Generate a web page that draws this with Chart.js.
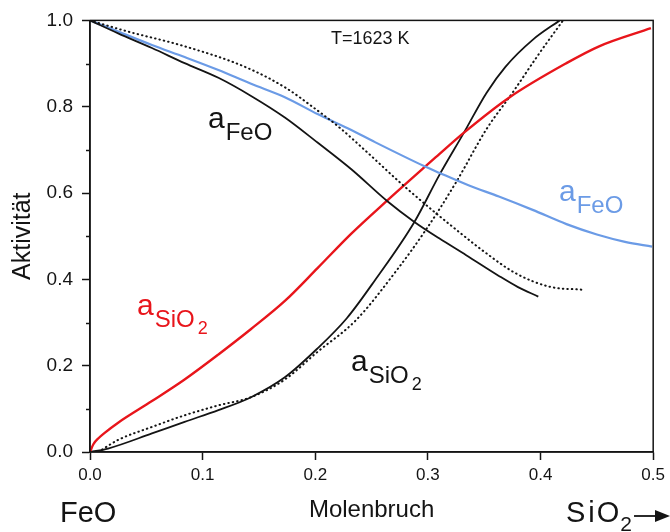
<!DOCTYPE html>
<html><head><meta charset="utf-8">
<script src="https://cdn.jsdelivr.net/npm/chart.js@4/dist/chart.umd.min.js"></script>
<style>html,body{margin:0;padding:0;background:#fff}#wrap{width:670px;height:532px}</style>
</head><body><div id="wrap"><canvas id="c" width="670" height="532"></canvas></div>
<script>
// Experimental a_FeO (black solid)
const feoExpX = [0, 0.025, 0.055, 0.084, 0.114, 0.143, 0.173, 0.202, 0.232, 0.264, 0.288, 0.310, 0.334, 0.363, 0.380, 0.398];
const feoExpY = [1.0, 0.970, 0.936, 0.901, 0.867, 0.825, 0.775, 0.717, 0.655, 0.581, 0.533, 0.495, 0.456, 0.408, 0.382, 0.360];
// Model a_FeO (black dotted)
const feoModX = [0, 0.031, 0.084, 0.137, 0.173, 0.199, 0.220, 0.245, 0.275, 0.304, 0.319, 0.349, 0.378, 0.408, 0.437];
const feoModY = [1.0, 0.976, 0.940, 0.893, 0.845, 0.797, 0.755, 0.697, 0.625, 0.560, 0.528, 0.466, 0.414, 0.383, 0.376];
// Blue a_FeO
const feoBlueX = [0, 0.025, 0.055, 0.084, 0.114, 0.143, 0.173, 0.202, 0.232, 0.253, 0.297, 0.310, 0.336, 0.363, 0.393, 0.423, 0.450, 0.475, 0.499];
const feoBlueY = [1.0, 0.974, 0.943, 0.915, 0.885, 0.853, 0.822, 0.783, 0.746, 0.718, 0.662, 0.647, 0.618, 0.592, 0.561, 0.528, 0.504, 0.487, 0.476];
// Red a_SiO2
const sio2RedX = [0, 0.003, 0.008, 0.0133, 0.025, 0.055, 0.084, 0.114, 0.143, 0.173, 0.202, 0.232, 0.264, 0.297, 0.307, 0.332, 0.372, 0.423, 0.452, 0.498];
const sio2RedY = [0, 0.018, 0.033, 0.045, 0.068, 0.118, 0.168, 0.226, 0.285, 0.350, 0.426, 0.506, 0.583, 0.660, 0.683, 0.740, 0.821, 0.901, 0.940, 0.982];
// Experimental a_SiO2 (black solid)
const sio2ExpX = [0, 0.016, 0.055, 0.084, 0.114, 0.143, 0.173, 0.202, 0.228, 0.253, 0.288, 0.310, 0.332, 0.352, 0.369, 0.393, 0.417];
const sio2ExpY = [0, 0.008, 0.043, 0.070, 0.097, 0.127, 0.173, 0.240, 0.310, 0.398, 0.533, 0.641, 0.740, 0.832, 0.893, 0.955, 1.0];
// Model a_SiO2 (black dotted)
const sio2ModX = [0.0074, 0.025, 0.055, 0.084, 0.114, 0.143, 0.173, 0.202, 0.236, 0.272, 0.298, 0.325, 0.352, 0.375, 0.399, 0.420];
const sio2ModY = [0, 0.028, 0.058, 0.085, 0.108, 0.127, 0.168, 0.232, 0.305, 0.420, 0.514, 0.625, 0.748, 0.832, 0.924, 1.0];

const xTicks = [0, 0.1, 0.2, 0.3, 0.4, 0.5];
const yTickLabels = ['0.0', '0.2', '0.4', '0.6', '0.8', '1.0'];

const pts = (xs, ys) => xs.map((x, i) => ({x, y: ys[i]}));
const INK = '#141414';
const RED = '#e8151b';
const BLUE = '#6b9be6';
const FONT = '"Liberation Sans", Arial, sans-serif';

const ds = (label, xs, ys, color, width, dash) => ({
  label, data: pts(xs, ys), borderColor: color, borderWidth: width,
  borderDash: dash || [], pointRadius: 0, cubicInterpolationMode: 'monotone', fill: false,
  borderCapStyle: dash ? 'round' : 'butt'
});

const decor = {
  id: 'decor',
  afterDatasetsDraw(chart) {
    const {ctx, chartArea: a, scales: {y}} = chart;
    ctx.save();
    ctx.strokeStyle = INK; ctx.lineWidth = 1.5;
    ctx.strokeRect(a.left, a.top, a.right - a.left, a.bottom - a.top);
    for (let k = 1; k < 10; k += 2) {
      const py = Math.round(y.getPixelForValue(k / 10)) + 0.5;
      ctx.beginPath(); ctx.moveTo(a.left - 4, py); ctx.lineTo(a.left, py); ctx.stroke();
    }
    ctx.restore();
  },
  afterDraw(chart) {
    const {ctx} = chart;
    ctx.save();
    ctx.textBaseline = 'alphabetic';
    const txt = (s, x, yb, size, color) => {
      ctx.font = size + 'px ' + FONT; ctx.fillStyle = color; ctx.fillText(s, x, yb);
      return x + ctx.measureText(s).width;
    };
    const label = (x, yb, sub, color, two) => {
      let nx = txt('a', x, yb, 30, color);
      nx = txt(sub, nx + 1, yb + 12, 24, color);
      if (two) txt('2', nx + 3, yb + 19, 18, color);
    };
    txt('T=1623 K', 331, 44, 18, INK);
    label(208, 128, 'FeO', INK, false);
    label(559, 201, 'FeO', BLUE, false);
    label(137, 315, 'SiO', RED, true);
    label(351, 371, 'SiO', INK, true);
    // bottom labels
    txt('FeO', 60, 522, 29, INK);
    let nx = txt('S', 566, 522, 29, INK);
    nx = txt('i', nx + 3, 522, 29, INK);
    nx = txt('O', nx + 2, 522, 29, INK);
    nx = txt('2', nx + 1, 531, 21, INK);
    ctx.strokeStyle = INK; ctx.lineWidth = 1.8;
    ctx.beginPath(); ctx.moveTo(nx + 2, 516); ctx.lineTo(660, 516); ctx.stroke();
    ctx.fillStyle = INK;
    ctx.beginPath(); ctx.moveTo(670, 516); ctx.lineTo(655, 510); ctx.lineTo(655, 522); ctx.closePath(); ctx.fill();
    ctx.restore();
  }
};

new Chart(document.getElementById('c'), {
  type: 'line',
  data: {
    datasets: [
      ds('aFeO exp', feoExpX, feoExpY, INK, 1.8),
      ds('aFeO model', feoModX, feoModY, INK, 2, [0.5, 4]),
      ds('aFeO blue', feoBlueX, feoBlueY, BLUE, 2.2),
      ds('aSiO2 red', sio2RedX, sio2RedY, RED, 2.4),
      ds('aSiO2 exp', sio2ExpX, sio2ExpY, INK, 1.8),
      ds('aSiO2 model', sio2ModX, sio2ModY, INK, 2, [0.5, 4])
    ]
  },
  options: {
    responsive: false, animation: false, devicePixelRatio: 1,
    layout: {padding: {top: 17, right: 15, left: 0, bottom: 0}},
    plugins: {legend: {display: false}, tooltip: {enabled: false}},
    scales: {
      x: {
        type: 'linear', min: 0, max: 0.5,
        afterFit: s => { s.height = 80; },
        afterBuildTicks: s => { s.ticks = xTicks.map(v => ({value: v})); },
        ticks: {color: INK, font: {family: FONT, size: 17}, padding: 5,
                maxRotation: 0, callback: v => v.toFixed(1)},
        grid: {drawOnChartArea: false, drawTicks: true, tickLength: 8, color: INK, tickWidth: 1.5},
        border: {display: true, color: INK, width: 1.5},
        title: {display: true, text: 'Molenbruch', color: INK, font: {family: FONT, size: 24}, padding: {top: 0, bottom: 7}}
      },
      y: {
        type: 'linear', min: 0, max: 1,
        afterFit: s => { s.width = 90; },
        afterBuildTicks: s => { s.ticks = yTickLabels.map(t => ({value: parseFloat(t)})); },
        ticks: {color: INK, font: {family: FONT, size: 19}, padding: 9,
                callback: v => yTickLabels[Math.round(v * 5)]},
        grid: {drawOnChartArea: false, drawTicks: true, tickLength: 8, color: INK, tickWidth: 1.5},
        border: {display: true, color: INK, width: 1.5},
        title: {display: true, text: 'Aktivität', color: INK, font: {family: FONT, size: 25}, padding: {top: 8, bottom: 0}}
      }
    }
  },
  plugins: [decor]
});
</script></body></html>
